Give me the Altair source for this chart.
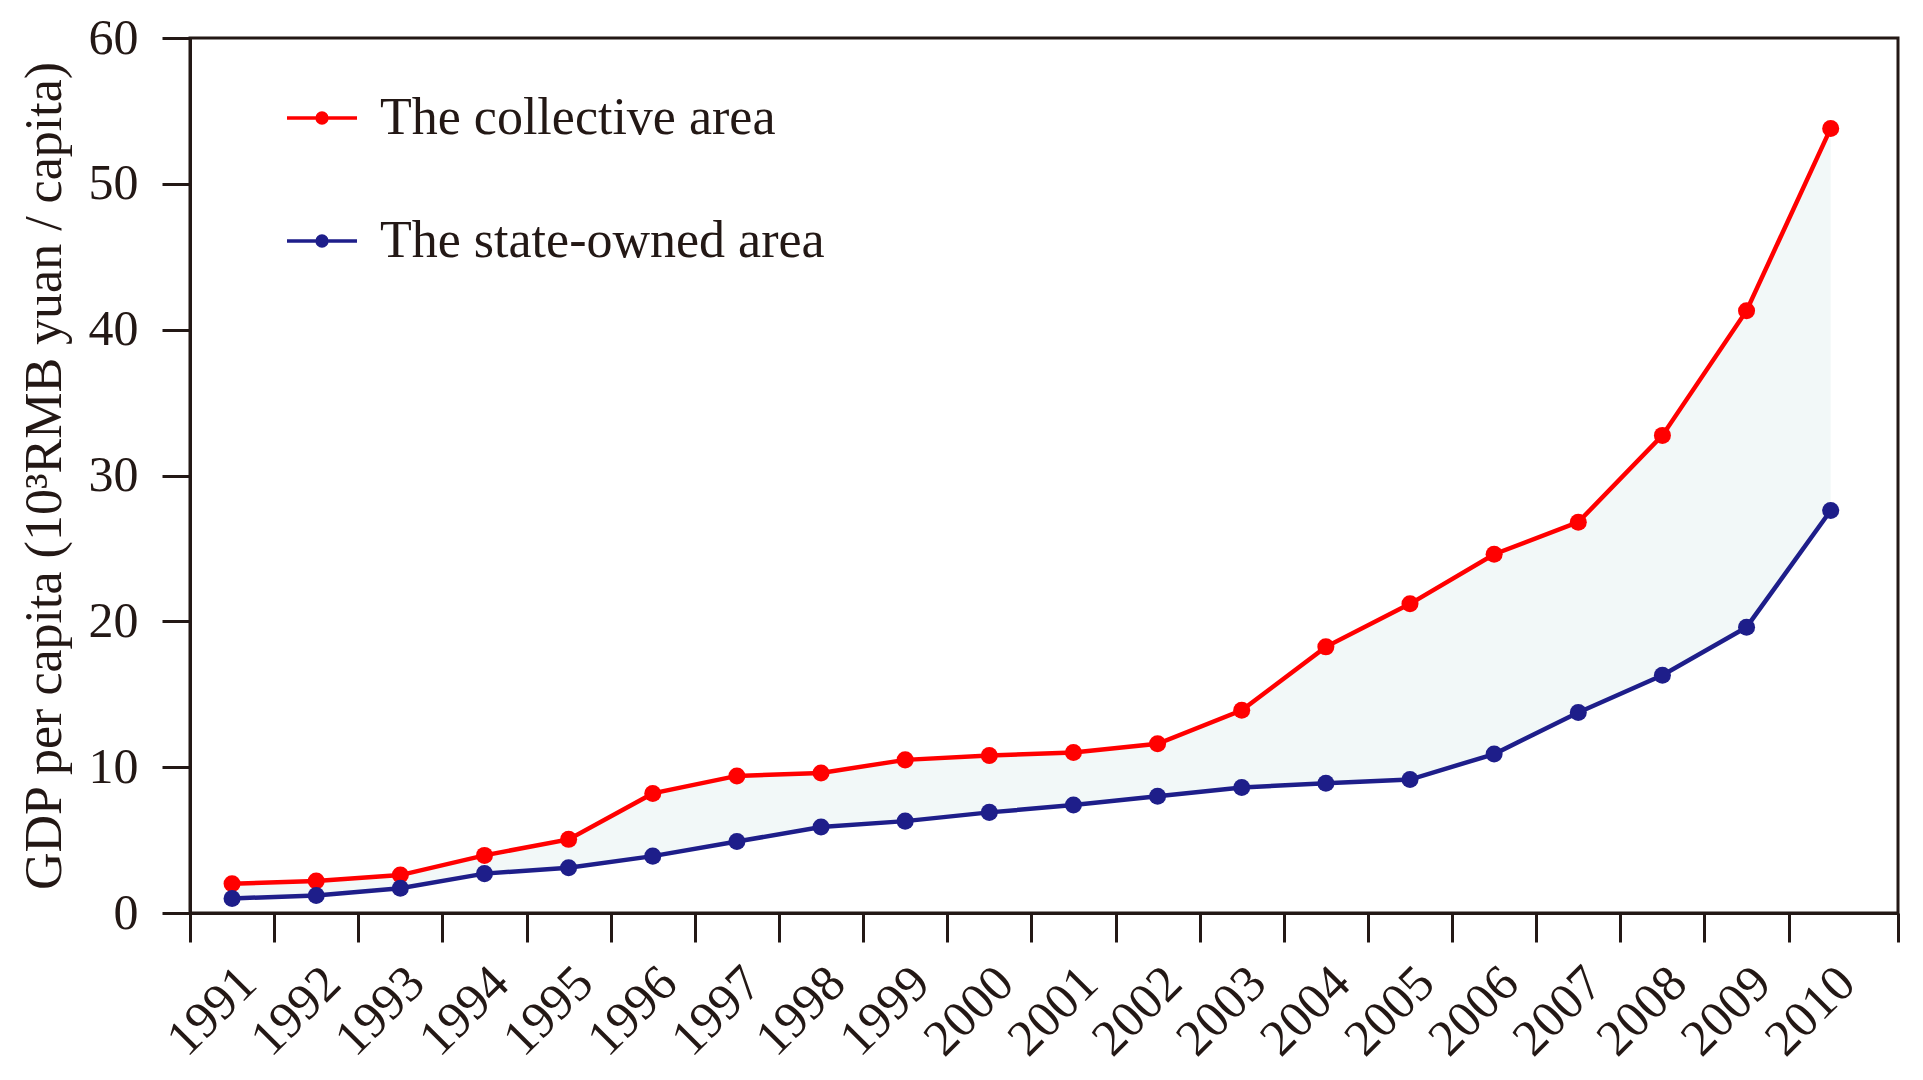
import altair as alt
import pandas as pd

# ---- data ----
years = list(range(1991, 2011))
collective = [2.0, 2.2, 2.6, 3.95, 5.05, 8.2, 9.4, 9.6, 10.5, 10.8,
              11.0, 11.6, 13.9, 18.25, 21.2, 24.6, 26.8, 32.75, 41.3, 53.8]
state_owned = [1.0, 1.2, 1.7, 2.7, 3.1, 3.9, 4.9, 5.9, 6.3, 6.9,
               7.4, 8.0, 8.6, 8.9, 9.15, 10.9, 13.75, 16.3, 19.6, 27.6]
series_names = ["The collective area", "The state-owned area"]
series_colors = ["#ff0000", "#1e1e8a"]
y_ticks = [0, 10, 20, 30, 40, 50, 60]
x_tick_bounds = [1990.5 + i for i in range(20)] + [2010.8]
y_title = "GDP per capita (10\u00b3RMB yuan / capita)"

wide = pd.DataFrame({"year": years, "collective": collective, "state": state_owned})
long = pd.DataFrame({
    "year": years + years,
    "value": collective + state_owned,
    "series": [series_names[0]] * len(years) + [series_names[1]] * len(years),
})

FONT = "Liberation Serif"
INK = "#231815"

x_scale = alt.Scale(domain=[1990.5, 2010.8], nice=False, zero=False)
y_scale = alt.Scale(domain=[0, 60], nice=False)

x_axis = alt.Axis(
    values=x_tick_bounds, title=None,
    labelExpr="datum.value < 2010 ? '' + (datum.value + 0.5) : ''",
    labelAngle=315, labelAlign="right", labelBaseline="middle",
    labelOffset=58, labelPadding=33,
    tickSize=29, tickWidth=3, tickColor=INK,
    domainColor=INK, domainWidth=3,
    labelFont=FONT, labelFontSize=51, labelColor=INK,
    labelOverlap=False, labelBound=False, labelFlush=False, grid=False,
)
y_axis = alt.Axis(
    values=y_ticks, title=y_title,
    titleFont=FONT, titleFontSize=52, titleFontWeight="normal", titleColor=INK,
    titlePadding=17,
    labelFont=FONT, labelFontSize=50, labelColor=INK, labelPadding=24,
    tickSize=28, tickWidth=3, tickColor=INK,
    domainColor=INK, domainWidth=3,
    labelOverlap=False, labelFlush=False, grid=False,
)

symbol_path = "M-1,0L1,0M-0.14,0A0.14,0.14,0,1,1,0.14,0A0.14,0.14,0,1,1,-0.14,0Z"
legend = alt.Legend(
    title=None, orient="none", legendX=95, legendY=43, direction="vertical",
    symbolType=symbol_path, symbolSize=4900, symbolStrokeWidth=3.5,
    symbolFillColor={"expr": "scale('color', datum.value)"},
    symbolStrokeColor={"expr": "scale('color', datum.value)"},
    symbolOpacity=1,
    labelFont=FONT, labelFontSize=52, labelColor=INK, labelOffset=21,
    rowPadding=60, padding=0, labelLimit=0,
)
color = alt.Color("series:N", scale=alt.Scale(domain=series_names, range=series_colors),
                  legend=legend)

area = alt.Chart(wide).mark_area(color="#f2f8f8", opacity=1).encode(
    x=alt.X("year:Q", scale=x_scale, axis=x_axis),
    y=alt.Y("state:Q", scale=y_scale, axis=y_axis),
    y2="collective:Q",
)
lines = alt.Chart(long).mark_line(strokeWidth=4.5).encode(
    x=alt.X("year:Q", scale=x_scale, axis=x_axis),
    y=alt.Y("value:Q", scale=y_scale, axis=y_axis),
    color=color,
)
points = alt.Chart(long).mark_circle(size=290, opacity=1).encode(
    x=alt.X("year:Q", scale=x_scale, axis=x_axis),
    y=alt.Y("value:Q", scale=y_scale, axis=y_axis),
    color=color,
)

chart = alt.layer(area, lines, points).properties(
    width=1708, height=875,
    autosize=alt.AutoSizeParams(type="none"),
    padding={"left": 182, "top": 30, "right": 10, "bottom": 158},
    background="white",
).configure_view(stroke=INK, strokeWidth=3)

chart.save("out.html", embed_options={"renderer": "svg", "actions": False})
